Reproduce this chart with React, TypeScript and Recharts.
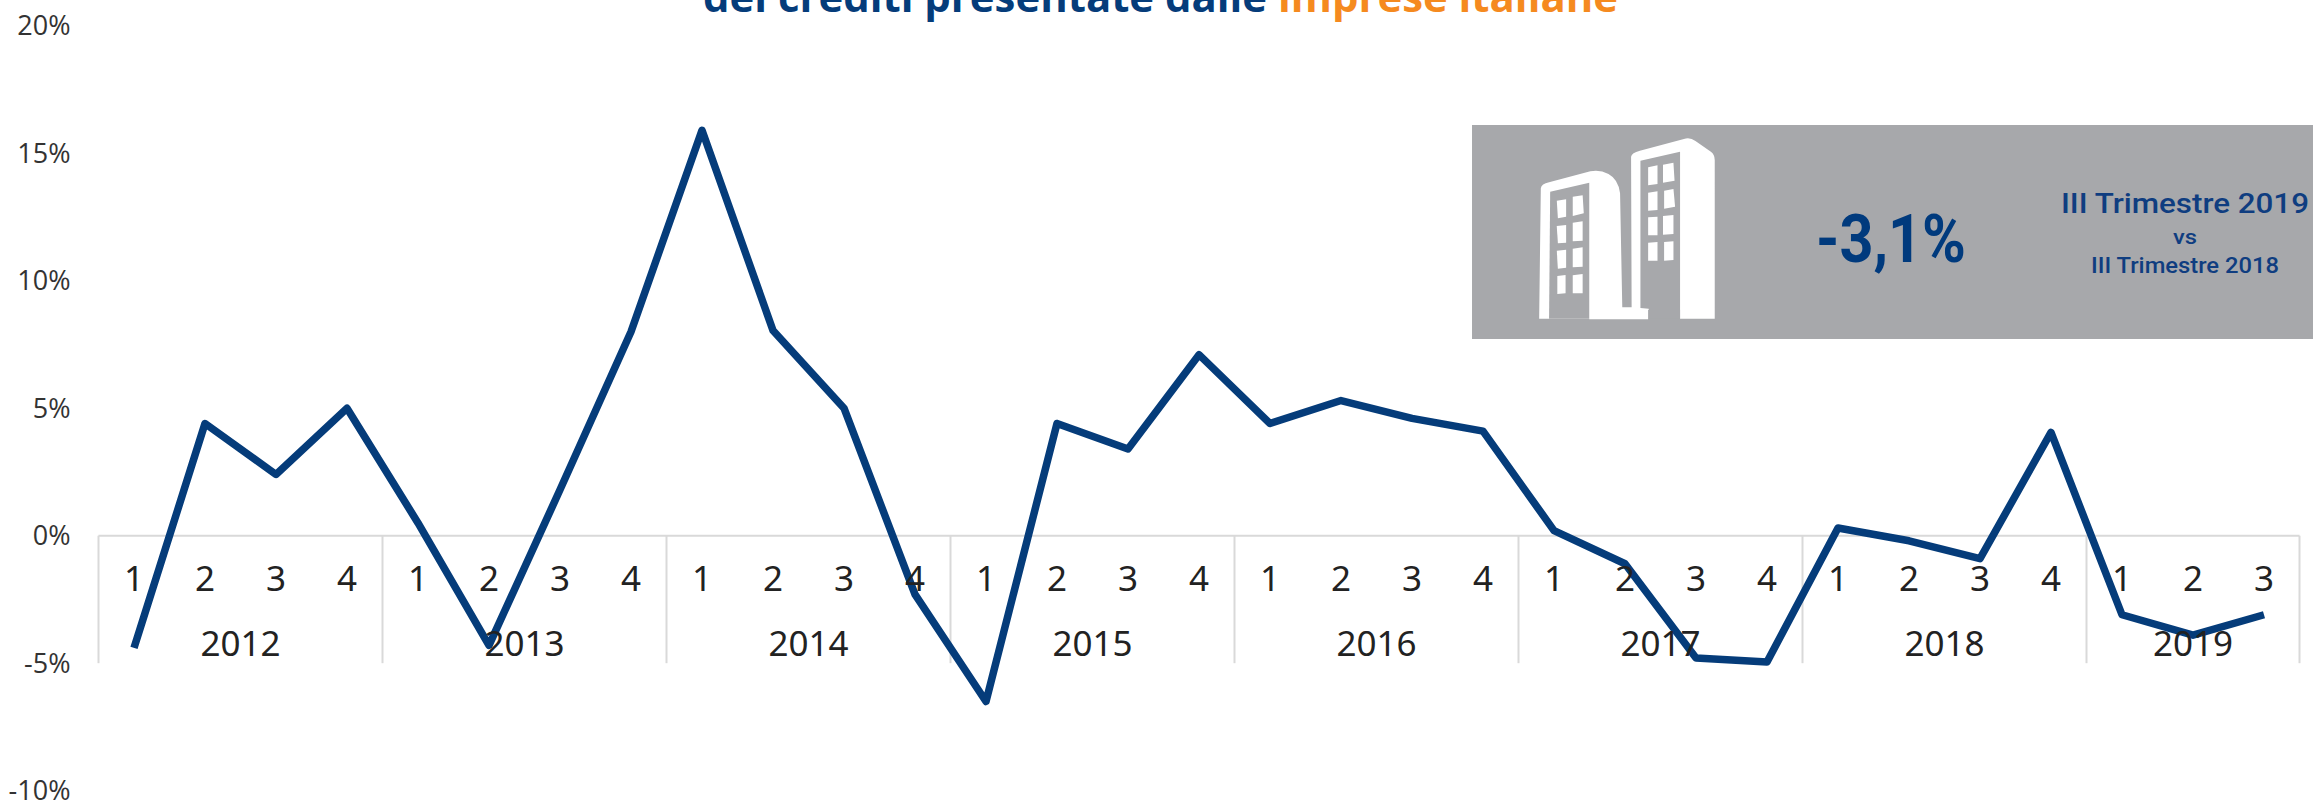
import { LineChart, Line, XAxis, YAxis, ReferenceLine } from "recharts";

const years = ["2012", "2013", "2014", "2015", "2016", "2017", "2018", "2019"];
const quartersPerYear = [4, 4, 4, 4, 4, 4, 4, 3];
const yTicks = [-10, -5, 0, 5, 10, 15, 20];
const values = [
  -4.4, 4.4, 2.4, 5.0,
  0.5, -4.3, 1.8, 8.0,
  15.9, 8.05, 5.0, -2.3,
  -6.5, 4.4, 3.4, 7.1,
  4.4, 5.3, 4.6, 4.1,
  0.2, -1.1, -4.8, -4.95,
  0.3, -0.2, -0.9, 4.05,
  -3.1, -3.9, -3.1,
];

const NAVY = "#053c7a";
const PANEL = "#a7a8ab";

// build the table + the year boundaries from the lists above
const data: { slot: number; quarter: number; value: number }[] = [];
const yearEdges: number[] = [0];
const yearMids: number[] = [];
years.forEach((y, i) => {
  const start = yearEdges[i];
  for (let q = 0; q < quartersPerYear[i]; q++) {
    data.push({ slot: start + q + 0.5, quarter: q + 1, value: values[start + q] });
  }
  yearEdges.push(start + quartersPerYear[i]);
  yearMids.push(start + quartersPerYear[i] / 2);
});
const slots = data.map((d) => d.slot);
const slotCount = yearEdges[yearEdges.length - 1];

// ─── Axis labels sit up by the zero line, not under the plot
const LiftedTick = ({ x, y, label, lift }: { x?: number; y?: number; label: string; lift: number }) => (
  <text
    x={x}
    y={(y ?? 0) - lift}
    textAnchor="middle"
    dominantBaseline="central"
    fontFamily="'Noto Sans', sans-serif"
    fontSize={35}
    fill="#222"
  >
    {label}
  </text>
);

const QuarterTick = (props: any) => (
  <LiftedTick x={props.x} y={props.y} lift={221} label={String(data[slots.indexOf(props.payload.value)]?.quarter)} />
);

const YearTick = (props: any) => (
  <LiftedTick x={props.x} y={props.y} lift={157} label={years[yearMids.indexOf(props.payload.value)]} />
);

// ─── Grey box, top right
const BuildingPanel = () => (
  <svg
    width={863}
    height={240}
    viewBox="0 0 1568 720"
    preserveAspectRatio="none"
    style={{ position: "absolute", left: 1450, top: 110 }}
  >
    <rect x={40} y={45} width={1528} height={642} fill={PANEL} />
    <path
      d="M162 626 L165 235 Q166 222 180 217 L255 184 Q272 178 288 192 Q306 208 309 250 L313 592 L330 592 L329 140 Q330 128 345 122 L425 87 Q436 81 446 93 L474 125 Q481 133 481 150 L481 626 L418 626 L418 600 L360 600 L360 628 L253 628 L253 626 L180 626 Z"
      fill="#fff"
    />
    <path d="M182 245 L253 218 L253 626 L180 626 Z" fill={PANEL} />
    <path d="M346 152 L418 125 L418 626 L361 626 L361 596 L346 594 Z" fill={PANEL} />
    <g fill="#fff">
      <path d="M194 272 L211 268 L211 320 L196 325 Z" />
      <path d="M223 260 L241 256 L243 310 L223 318 Z" />
      <path d="M194 348 L211 345 L211 398 L196 400 Z" />
      <path d="M223 338 L241 334 L241 392 L223 394 Z" />
      <path d="M194 422 L211 419 L211 473 L196 476 Z" />
      <path d="M223 416 L241 412 L241 470 L223 472 Z" />
      <path d="M195 498 L210 495 L210 550 L195 552 Z" />
      <path d="M223 496 L241 492 L241 550 L223 550 Z" />
      <path d="M360 172 L377 166 L377 222 L360 226 Z" />
      <path d="M387 164 L406 158 L408 212 L387 218 Z" />
      <path d="M360 248 L377 244 L377 300 L360 302 Z" />
      <path d="M389 242 L406 237 L409 290 L389 296 Z" />
      <path d="M360 322 L377 320 L377 376 L360 376 Z" />
      <path d="M387 318 L406 315 L406 372 L387 374 Z" />
      <path d="M360 398 L377 396 L377 452 L360 452 Z" />
      <path d="M389 396 L406 394 L406 450 L389 452 Z" />
    </g>
  </svg>
);

// title (cropped at the top of the picture) and the box texts
const Captions = () => (
  <svg width={2313} height={802} style={{ position: "absolute", left: 0, top: 0 }}>
    <text x={703} y={12} textLength={915} lengthAdjust="spacingAndGlyphs" fontFamily="'Open Sans', sans-serif" fontWeight={700} fontSize={42} fill={NAVY}>
      dei crediti presentate dalle <tspan fill="#f58a1f">imprese italiane</tspan>
    </text>
    <g fontFamily="'Roboto', sans-serif" fill="#0f3d80" textAnchor="start">
      <text x={1816} y={262} textLength={150} lengthAdjust="spacingAndGlyphs" fontSize={66} fontWeight={700} fill="#003a7d">
        -3,1%
      </text>
      <text x={2061} y={213} textLength={248} lengthAdjust="spacingAndGlyphs" fontSize={28} fontWeight={500}>
        III Trimestre 2019
      </text>
      <text x={2173} y={244} textLength={24} lengthAdjust="spacingAndGlyphs" fontSize={20} fontWeight={500}>
        vs
      </text>
      <text x={2091} y={273} textLength={188} lengthAdjust="spacingAndGlyphs" fontSize={22} fontWeight={500}>
        III Trimestre 2018
      </text>
    </g>
  </svg>
);

export default function App() {
  return (
    <div style={{ position: "absolute", left: 0, top: 0, width: 2313, height: 802, background: "#fff", overflow: "hidden" }}>
      <LineChart
        width={2313}
        height={802}
        data={data}
        margin={{ top: 25.7, right: 13.5, bottom: 9.3, left: 0 }}
      >
        <XAxis
          xAxisId="quarter"
          type="number"
          dataKey="slot"
          domain={[0, slotCount]}
          allowDataOverflow
          ticks={slots}
          height={1}
          interval={0}
          axisLine={false}
          tickLine={false}
          tick={QuarterTick}
        />
        <XAxis
          xAxisId="years"
          type="number"
          dataKey="slot"
          domain={[0, slotCount]}
          allowDataOverflow
          ticks={yearMids}
          height={1}
          interval={0}
          axisLine={false}
          tickLine={false}
          tick={YearTick}
        />
        <YAxis
          type="number"
          domain={[-10, 20]}
          ticks={yTicks}
          width={98.5}
          interval={0}
          axisLine={false}
          tickLine={false}
          tickSize={0}
          tickMargin={28}
          tickFormatter={(v: number) => `${v}%`}
          tick={{ fontSize: 27, fill: "#333", fontFamily: "'Open Sans', sans-serif" }}
        />
        <ReferenceLine xAxisId="years" y={0} stroke="#d9d9d9" strokeWidth={2} />
        {yearEdges.map((edge) => (
          <ReferenceLine
            key={edge}
            xAxisId="years"
            segment={[
              { x: edge, y: 0 },
              { x: edge, y: -5 },
            ]}
            stroke="#d9d9d9"
            strokeWidth={2}
          />
        ))}
        <Line
          xAxisId="quarter"
          type="linear"
          dataKey="value"
          stroke={NAVY}
          strokeWidth={7.5}
          strokeLinejoin="round"
          dot={false}
          isAnimationActive={false}
        />
      </LineChart>
      <BuildingPanel />
      <Captions />
    </div>
  );
}
